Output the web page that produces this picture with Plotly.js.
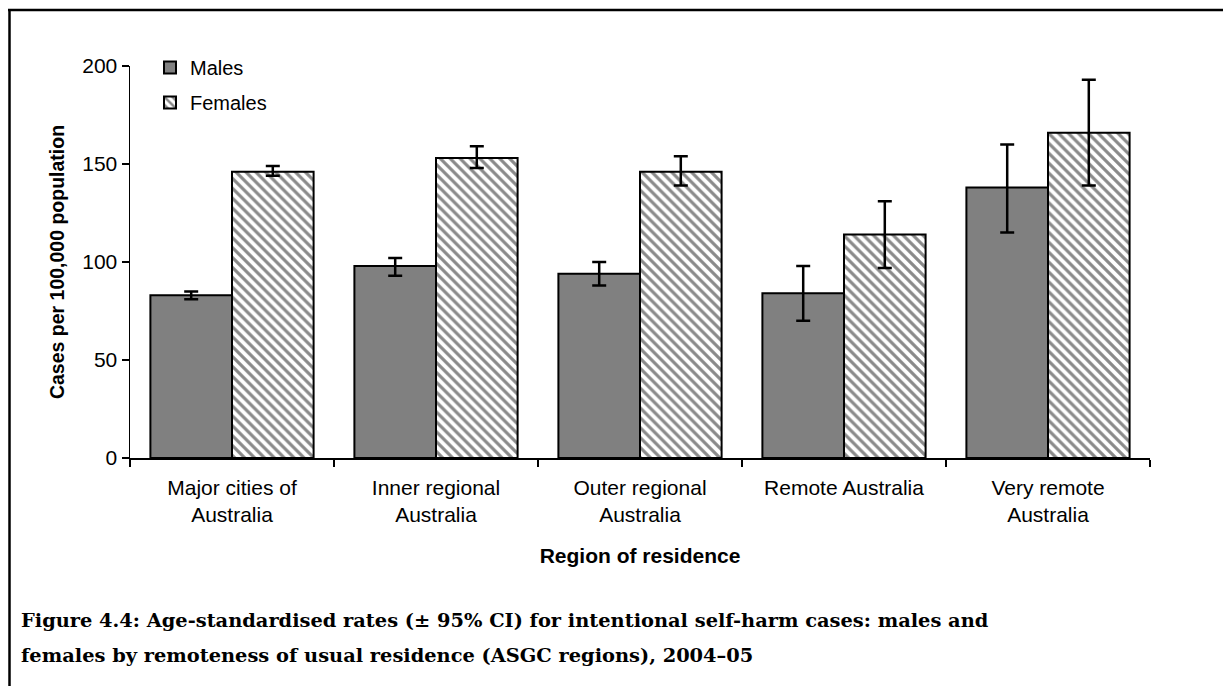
<!DOCTYPE html>
<html>
<head>
<meta charset="utf-8">
<script src="https://cdn.plot.ly/plotly-3.0.1.min.js"></script>
<style>
html,body{margin:0;padding:0;background:#fff;}
#chart{width:1223px;height:686px;}
</style>
</head>
<body>
<div id="chart"></div>
<script>
// Data
var categories = ["Major cities of<br>Australia", "Inner regional<br>Australia", "Outer regional<br>Australia", "Remote Australia", "Very remote<br>Australia"];
var malesRate = [83, 98, 94, 84, 138];
var malesLow = [81, 93, 88, 70, 115];
var malesHigh = [85, 102, 100, 98, 160];
var femalesRate = [146, 153, 146, 114, 166];
var femalesLow = [144, 148, 139, 97, 139];
var femalesHigh = [149, 159, 154, 131, 193];
var yTicks = [0, 50, 100, 150, 200];

function plus(v, hi) { return hi.map(function (h, i) { return h - v[i]; }); }
function minus(v, lo) { return lo.map(function (l, i) { return v[i] - l; }); }

var W = 1223, H = 686;
var M = {l: 130, r: 73, t: 66, b: 228};
var PW = W - M.l - M.r, PH = H - M.t - M.b;
function px(x) { return (x - M.l) / PW; }
function py(y) { return (H - M.b - y) / PH; }

var sans = '"Liberation Sans", Arial, sans-serif';
var serif = '"DejaVu Serif", "Liberation Serif", serif';

var traces = [
  {
    type: 'bar', name: 'Males', x: categories, y: malesRate, legendgroup: 'm',
    marker: {color: '#808080', line: {color: '#000', width: 2}},
    error_y: {type: 'data', symmetric: false, array: plus(malesRate, malesHigh), arrayminus: minus(malesRate, malesLow), color: '#000', thickness: 2.5, width: 7}
  },
  {
    type: 'bar', name: 'Females', x: categories, y: femalesRate, legendgroup: 'f',
    marker: {color: '#808080', line: {color: '#000', width: 2},
      pattern: {shape: '\\', fgcolor: '#8a8a8a', bgcolor: '#ffffff', size: 7, solidity: 0.45, fillmode: 'replace'}},
    error_y: {type: 'data', symmetric: false, array: plus(femalesRate, femalesHigh), arrayminus: minus(femalesRate, femalesLow), color: '#000', thickness: 2.5, width: 7}
  }
];

var layout = {
  width: W, height: H,
  margin: M,
  paper_bgcolor: '#fff', plot_bgcolor: '#fff',
  font: {family: sans, color: '#000', size: 21},
  barmode: 'group', bargap: 0.2, bargroupgap: 0,
  showlegend: true,
  legend: {x: px(150), y: py(48), xanchor: 'left', yanchor: 'top', bgcolor: 'rgba(0,0,0,0)',
    font: {family: sans, size: 20, color: '#000'}, traceorder: 'grouped', tracegroupgap: 6, itemwidth: 30},
  xaxis: {
    type: 'category', showline: true, linecolor: '#000', linewidth: 1.5,
    ticks: 'outside', ticklen: 7, tickcolor: '#000', tickwidth: 1.5, tickson: 'boundaries',
    showgrid: false, zeroline: false, tickfont: {family: sans, size: 21}, ticklabelstandoff: 10,
    title: {text: '<b>Region of residence</b>', font: {family: sans, size: 21}, standoff: 23}
  },
  yaxis: {
    range: [0, 200], tickvals: yTicks, showline: true, linecolor: '#000', linewidth: 1.5,
    ticks: 'outside', ticklen: 7, tickcolor: '#000', tickwidth: 1.5,
    showgrid: false, zeroline: false, tickfont: {family: sans, size: 21},
    title: {text: '<b>Cases per 100,000 population</b>', font: {family: sans, size: 19.5}, standoff: 12}
  },
  shapes: [
    {type: 'line', xref: 'paper', yref: 'paper', x0: px(9.5), x1: px(9.5), y0: py(10), y1: py(690), line: {color: '#000', width: 2.5}},
    {type: 'line', xref: 'paper', yref: 'paper', x0: px(8), x1: px(1230), y0: py(10), y1: py(10), line: {color: '#000', width: 2.5}}
  ],
  annotations: [
    {xref: 'paper', yref: 'paper', x: px(19), y: py(620), xanchor: 'left', yanchor: 'middle', showarrow: false,
      text: '<b>Figure 4.4: Age-standardised rates (± 95% CI) for intentional self-harm cases: males and</b>',
      font: {family: serif, size: 19.4, color: '#000'}},
    {xref: 'paper', yref: 'paper', x: px(19), y: py(655), xanchor: 'left', yanchor: 'middle', showarrow: false,
      text: '<b>females by remoteness of usual residence (ASGC regions), 2004–05</b>',
      font: {family: serif, size: 19.4, color: '#000'}}
  ]
};

Plotly.newPlot('chart', traces, layout, {displayModeBar: false, staticPlot: true});
</script>
</body>
</html>
